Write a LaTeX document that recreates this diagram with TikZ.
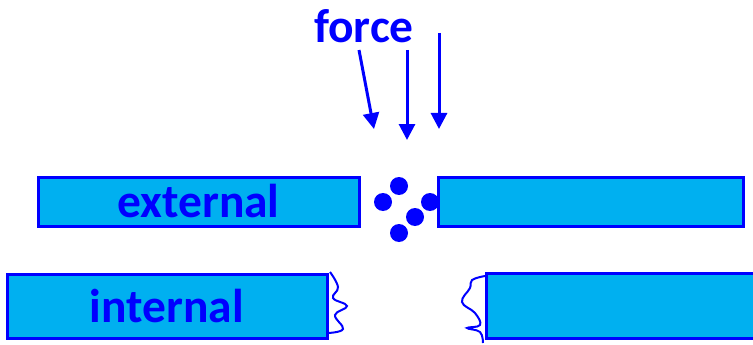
\documentclass[tikz,border=0pt]{standalone}
\usepackage{fontspec}
\setmainfont{Carlito}
\usepackage{tikz}
\usetikzlibrary{arrows.meta}

\definecolor{wallfill}{RGB}{0,176,240}

\begin{document}
\begin{tikzpicture}[x=1pt,y=-1pt,
	wall/.style={draw=blue,fill=wallfill,line width=3pt,inner sep=0pt,font=\fontsize{47.5}{50}\selectfont\bfseries,text=blue},
	particle/.style={circle,fill=blue,inner sep=0pt,minimum size=18pt},
	push/.style={-{Triangle[width=16pt,length=16pt]},draw=blue,line width=3pt},
	wave/.style={draw=blue,line width=2pt}]

	\useasboundingbox (0,0) rectangle (753,345);
	\clip (0,0) rectangle (753,345);

	% membranes
	\node[wall,minimum width=321pt,minimum height=49pt] (ext) at (198.5,201.5) {external};
	\node[wall,minimum width=305pt,minimum height=49pt] (extR) at (590.5,201.5) {};
	\node[wall,minimum width=320pt,minimum height=64pt] (int) at (167,306) {internal};
	\node[wall,minimum width=290pt,minimum height=65pt] (intR) at (631,305.5) {};

	% particles in the gap
	\node[particle] (p1) at (399,186) {};
	\node[particle] (p2) at (383,202) {};
	\node[particle] (p3) at (430,202) {};
	\node[particle] (p4) at (415,217) {};
	\node[particle] (p5) at (399,233) {};

	% applied force
	\node[font=\fontsize{47.5}{50}\selectfont\bfseries,text=blue] (force) at (364,26) {force};
	\coordinate (a1) at (359,50);
	\coordinate (b1) at (374,129);
	\coordinate (a2) at (407,50);
	\coordinate (b2) at (407,140);
	\coordinate (a3) at (439,33);
	\coordinate (b3) at (439,129);
	\path[push] (a1) -- (b1);
	\path[push] (a2) -- (b2);
	\path[push] (a3) -- (b3);

	% torn edges
	\draw[wave] plot[smooth,tension=0.7] coordinates {(330,272) (338,287) (333,298) (347,306) (335,315) (343,329) (328,333)};
	\draw[wave] plot[smooth,tension=0.7] coordinates {(485,276) (472,280) (470,288) (462,302) (475,313) (480,325) (467,328) (480,332) (483,343)};
\end{tikzpicture}
\end{document}
